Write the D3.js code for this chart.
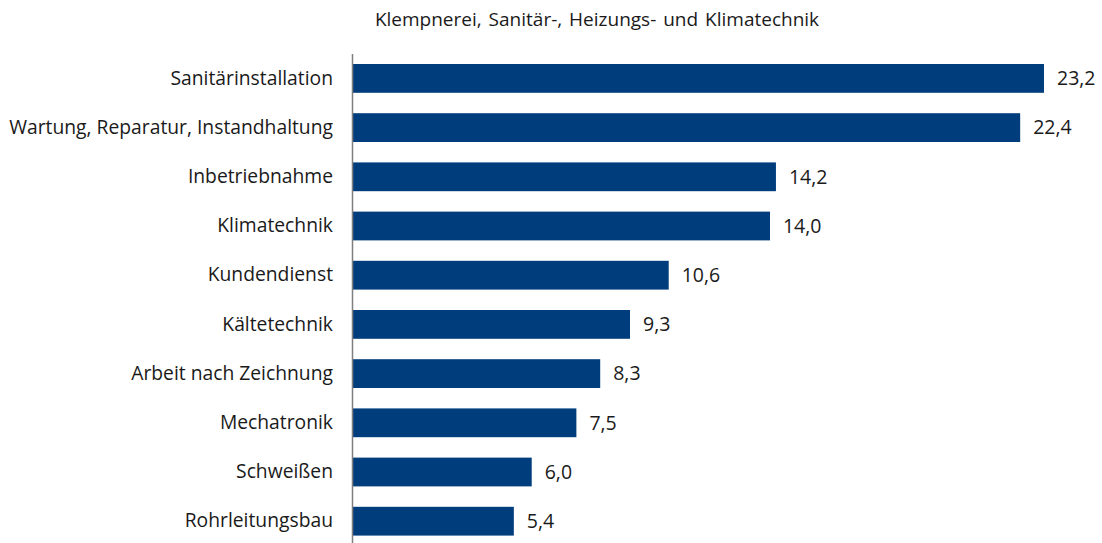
<!DOCTYPE html>
<html>
<head>
<meta charset="utf-8">
<script src="https://cdn.jsdelivr.net/npm/d3@7"></script>
<style>
    body { margin: 0; background: #fff; }
    svg { display: block; }
    text { font-family: "Open Sans", sans-serif; fill: #1a1a1a; }
</style>
</head>
<body>
<script>
    var title = "Klempnerei, Sanitär-, Heizungs- und Klimatechnik";
    var categories = ["Sanitärinstallation", "Wartung, Reparatur, Instandhaltung", "Inbetriebnahme",
        "Klimatechnik", "Kundendienst", "Kältetechnik", "Arbeit nach Zeichnung", "Mechatronik",
        "Schweißen", "Rohrleitungsbau"];
    var values = [23.2, 22.4, 14.2, 14.0, 10.6, 9.3, 8.3, 7.5, 6.0, 5.4];

    var width = 1102, height = 543;
    var svg = d3.select('body').append('svg')
        .attr('width', width)
        .attr('height', height);

    var x = d3.scaleLinear().domain([0, 23.2]).range([353, 1044]);
    var y = d3.scaleBand().domain(categories).range([53.8, 545.8])
        .paddingInner(0.415).paddingOuter(0.2075);

    svg.append('text')
        .attr('x', 597).attr('y', 26)
        .attr('text-anchor', 'middle')
        .style('font-size', '19px')
        .style('word-spacing', '2px')
        .text(title);

    var data = categories.map(function (c, i) { return { name: c, value: values[i] }; });

    svg.selectAll('rect.bar').data(data).enter().append('rect')
        .attr('class', 'bar')
        .attr('x', x(0))
        .attr('y', function (d) { return y(d.name); })
        .attr('width', function (d) { return x(d.value) - x(0); })
        .attr('height', y.bandwidth())
        .attr('fill', '#003d7c');

    svg.selectAll('text.val').data(data).enter().append('text')
        .attr('class', 'val')
        .attr('x', function (d) { return x(d.value) + 13; })
        .attr('y', function (d) { return y(d.name) + y.bandwidth() / 2; })
        .attr('dy', '0.35em')
        .style('font-size', '19.5px')
        .text(function (d) { return d.value.toFixed(1).replace('.', ','); });

    // category axis
    var axis = d3.axisLeft(y).tickSize(0).tickPadding(20);
    var g = svg.append('g').attr('transform', 'translate(' + x(0) + ',0)').call(axis);
    g.select('.domain').remove();
    g.selectAll('text').style('font-size', '19.3px').style('font-family', '"Open Sans", sans-serif').attr('fill', '#1a1a1a');

    svg.append('line')
        .attr('x1', x(0) - 0.5).attr('x2', x(0) - 0.5)
        .attr('y1', 54).attr('y2', height)
        .attr('stroke', '#7f7f7f').attr('stroke-width', 1.5);
</script>
</body>
</html>
